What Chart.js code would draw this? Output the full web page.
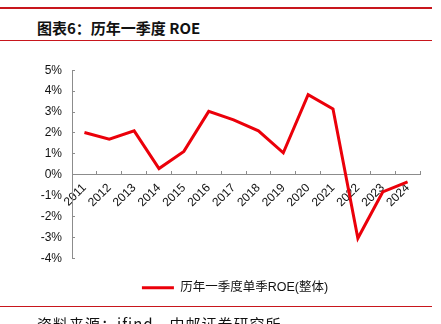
<!DOCTYPE html>
<html>
<head>
<meta charset="utf-8">
<script src="https://cdn.jsdelivr.net/npm/chart.js@4.4.0/dist/chart.umd.min.js"></script>
<style>
  html, body { margin: 0; padding: 0; background: #fff; }
  body { width: 441px; height: 324px; position: relative; overflow: hidden; }
  .rule { position: absolute; left: 0; width: 432px; background: #c8161d; }
  .title { position: absolute; left: 37px; top: 17px; font: bold 15px "Noto Sans CJK SC", sans-serif; color: #111; white-space: nowrap; }
  .source { position: absolute; left: 37px; top: 313px; font: 15px "Noto Sans CJK SC", sans-serif; color: #111; letter-spacing: 1px; white-space: nowrap; }
  #wrap { position: absolute; left: 0; top: 50px; width: 441px; height: 274px; }
</style>
</head>
<body>
<div class="rule" style="top:7px;height:2px"></div>
<div class="title">图表6：历年一季度 ROE</div>
<div class="rule" style="top:40px;height:1px"></div>
<div id="wrap"><canvas id="roeChart"></canvas></div>
<div class="rule" style="top:306px;height:1px"></div>
<div class="source">资料来源：ifind，中邮证券研究所</div>

<script>
// данные
const years = ['2011', '2012', '2013', '2014', '2015', '2016', '2017', '2018', '2019', '2020', '2021', '2022', '2023', '2024'];
const roeQ1 = [2.02, 1.70, 2.10, 0.30, 1.12, 3.03, 2.63, 2.10, 1.05, 3.83, 3.15, -3.03, -0.82, -0.34];
const yTicks = [-4, -3, -2, -1, 0, 1, 2, 3, 4, 5];
const seriesName = '历年一季度单季ROE(整体)';

const red = 'rgb(235, 0, 10)';
const axisGray = '#8c8c8c';
const tickFont = { family: '"Liberation Sans", Arial, sans-serif', size: 12 };

// сдвиг легенды вправо, как на картинке
const legendShift = {
  id: 'legendShift',
  afterLayout(chart) {
    const lg = chart.legend;
    if (lg) { lg.left += 25; lg.right += 25; }
  }
};

new Chart(document.getElementById('roeChart'), {
  type: 'line',
  data: {
    labels: years,
    datasets: [{
      label: seriesName,
      data: roeQ1,
      borderColor: red,
      backgroundColor: red,
      borderWidth: 3,
      pointRadius: 0,
      tension: 0
    }]
  },
  options: {
    responsive: true,
    maintainAspectRatio: false,
    animation: false,
    layout: {
      padding: { top: 19, left: 0, right: 21, bottom: 20 }
    },
    plugins: {
      tooltip: { enabled: false },
      legend: {
        position: 'bottom',
        labels: {
          usePointStyle: true,
          pointStyle: 'line',
          pointStyleWidth: 32,
          padding: 23,
          color: '#111',
          font: { family: '"Liberation Sans", "Noto Sans CJK SC", sans-serif', size: 12.5 }
        }
      }
    },
    scales: {
      x: {
        position: { y: 0 },
        offset: true,
        grid: {
          offset: true,
          drawOnChartArea: false,
          color: axisGray,
          tickLength: -4
        },
        border: { color: axisGray, width: 1 },
        ticks: {
          color: '#111',
          font: tickFont,
          maxRotation: 45,
          minRotation: 45,
          padding: 10,
          autoSkip: false
        }
      },
      y: {
        min: -4,
        max: 5,
        afterFit: (scale) => { scale.width = 72; },
        afterBuildTicks: (scale) => { scale.ticks = yTicks.map(v => ({ value: v })); },
        grid: {
          drawOnChartArea: false,
          color: axisGray,
          tickLength: -3
        },
        border: { color: axisGray, width: 1 },
        ticks: {
          color: '#111',
          font: tickFont,
          padding: 13,
          callback: (v) => v + '%'
        }
      }
    }
  },
  plugins: [legendShift]
});
</script>
</body>
</html>
